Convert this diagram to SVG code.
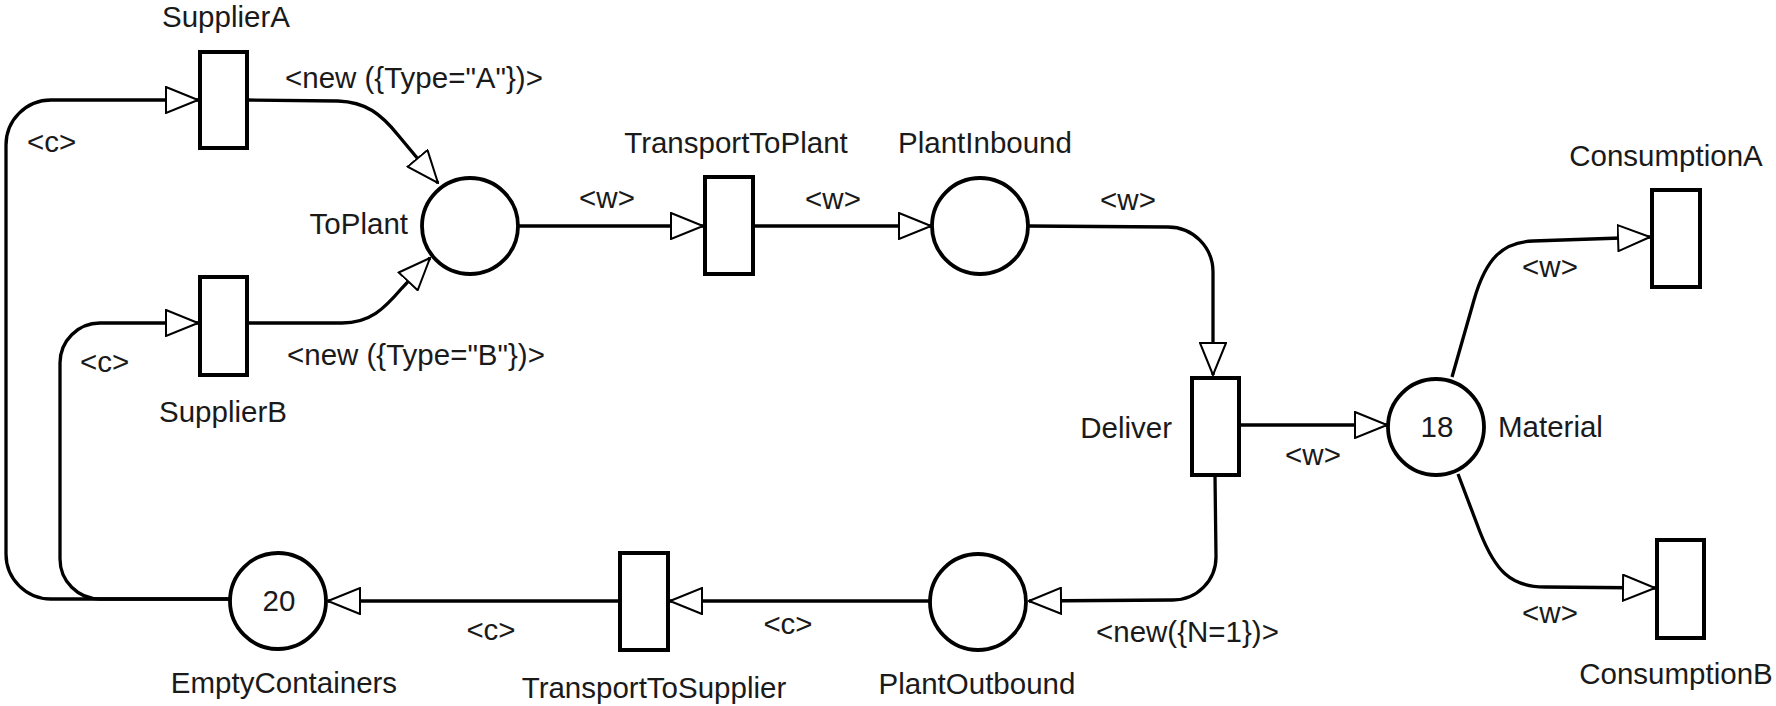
<svg xmlns="http://www.w3.org/2000/svg" width="1776" height="706" viewBox="0 0 1776 706">
<style>
text{font-family:"Liberation Sans",Arial,sans-serif;font-size:29.5px;fill:#1a1a1a}
.tr{fill:#fff;stroke:#000;stroke-width:4}
.pl{fill:#fff;stroke:#000;stroke-width:3.8}
.arc{fill:none;stroke:#000;stroke-width:3.3;marker-end:url(#arr)}
.m{text-anchor:middle}
.e{text-anchor:end}
</style>
<defs>
<marker id="arr" markerUnits="userSpaceOnUse" viewBox="0 0 34 28" refX="33" refY="14" markerWidth="34" markerHeight="28" orient="auto">
<path d="M1,1 L33,14 L1,27 Z" fill="#fff" stroke="#000" stroke-width="2"/>
</marker>
</defs>
<g id="connectors">
<path class="arc" d="M230,599 L51,599 A45,45 0 0 1 6,554 L6,145 A45,45 0 0 1 51,100 L198,100"/>
<path class="arc" d="M230,599 L100,599 A40,40 0 0 1 60,559 L60,363 A40,40 0 0 1 100,323 L198,323"/>
<path class="arc" d="M247,100 L338,101 C366,102 381,114 398,135 L438,183"/>
<path class="arc" d="M247,323 L342,323 C370,323 384,309 402,288 L430,258"/>
<path class="arc" d="M518,226 L703,226"/>
<path class="arc" d="M753,226 L931,226"/>
<path class="arc" d="M1028,226 L1168,227 A45,45 0 0 1 1213,272 L1213,375"/>
<path class="arc" d="M1239,425 L1387,425"/>
<path class="arc" d="M1215,475 L1216,557 A43,43 0 0 1 1173,600 L1029,601"/>
<path class="arc" d="M930,601 L670,601"/>
<path class="arc" d="M620,601 L328,601"/>
<path class="arc" d="M1452,377 L1474,300 C1486,258 1503,242 1533,241 L1650,237"/>
<path class="arc" d="M1458,474 L1480,532 C1495,570 1510,587 1545,587 L1655,588"/>
<text x="27" y="152">&lt;c&gt;</text>
<text x="80" y="372">&lt;c&gt;</text>
<text x="285" y="88">&lt;new ({Type="A"})&gt;</text>
<text x="287" y="365">&lt;new ({Type="B"})&gt;</text>
<text x="607" y="208" class="m">&lt;w&gt;</text>
<text x="833" y="209" class="m">&lt;w&gt;</text>
<text x="1128" y="210" class="m">&lt;w&gt;</text>
<text x="1313" y="465" class="m">&lt;w&gt;</text>
<text x="1096" y="642">&lt;new({N=1})&gt;</text>
<text x="788" y="634" class="m">&lt;c&gt;</text>
<text x="491" y="640" class="m">&lt;c&gt;</text>
<text x="1550" y="277" class="m">&lt;w&gt;</text>
<text x="1550" y="623" class="m">&lt;w&gt;</text>
</g>
<g id="SupplierA"><rect class="tr" x="200" y="52" width="47" height="96"/><text x="226" y="27" class="m">SupplierA</text></g>
<g id="SupplierB"><rect class="tr" x="200" y="277" width="47" height="98"/><text x="223" y="422" class="m">SupplierB</text></g>
<g id="TransportToPlant"><rect class="tr" x="705" y="177" width="48" height="97"/><text x="736" y="153" class="m">TransportToPlant</text></g>
<g id="Deliver"><rect class="tr" x="1192" y="378" width="47" height="97"/><text x="1172" y="438" class="e">Deliver</text></g>
<g id="TransportToSupplier"><rect class="tr" x="620" y="553" width="48" height="97"/><text x="654" y="698" class="m">TransportToSupplier</text></g>
<g id="ConsumptionA"><rect class="tr" x="1652" y="190" width="48" height="97"/><text x="1666" y="166" class="m">ConsumptionA</text></g>
<g id="ConsumptionB"><rect class="tr" x="1657" y="540" width="47" height="98"/><text x="1676" y="684" class="m">ConsumptionB</text></g>
<g id="ToPlant"><circle class="pl" cx="470" cy="226" r="48"/><text x="408" y="234" class="e">ToPlant</text></g>
<g id="PlantInbound"><circle class="pl" cx="980" cy="226" r="48"/><text x="985" y="153" class="m">PlantInbound</text></g>
<g id="Material"><circle class="pl" cx="1436" cy="427" r="48"/><text x="1437" y="437" class="m">18</text><text x="1498" y="437">Material</text></g>
<g id="PlantOutbound"><circle class="pl" cx="978" cy="602" r="48"/><text x="977" y="694" class="m">PlantOutbound</text></g>
<g id="EmptyContainers"><circle class="pl" cx="278" cy="601" r="48"/><text x="279" y="611" class="m">20</text><text x="284" y="693" class="m">EmptyContainers</text></g>
</svg>
